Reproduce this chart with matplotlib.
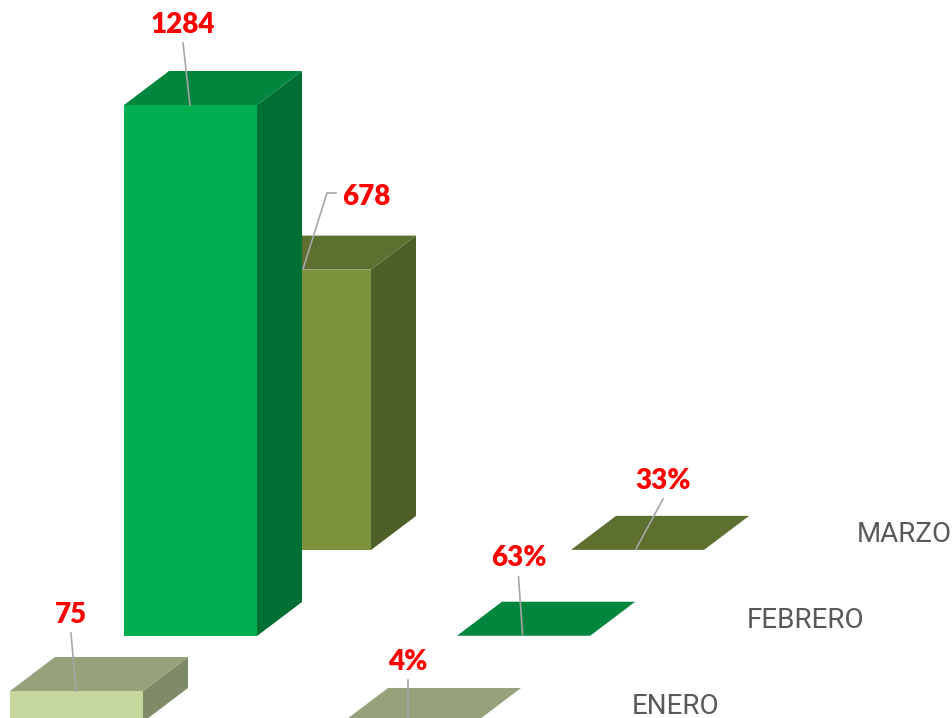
import matplotlib
matplotlib.use("Agg")
import matplotlib.pyplot as plt
from matplotlib.patches import Polygon

# Datos
meses = ["ENERO", "FEBRERO", "MARZO"]
totales = [75, 1284, 678]
porcentajes = [0.04, 0.63, 0.33]

# colores de cada mes: frente, tapa, lado
col_frente = ["#C5D79C", "#00B050", "#7E933D"]
col_tapa = ["#95A27A", "#00863D", "#5E7030"]
col_lado = ["#7F8B68", "#006F33", "#4F5F28"]

# geometria de la caja en pixeles
ANCHO, ALTO = 953, 718
BASE_PX = 722
ESCALA = 531 / 1284  # pixeles por unidad
PASO_X, PASO_Y = 114, 86  # desplazamiento entre meses
FONDO_X, FONDO_Y = 45, 34
ANCHO_BARRA = 133
COLUMNAS_X = [10, 343]


def y_dato(px):
    return (BASE_PX - px) / ESCALA


def caja(ax, x, base, valor, i):
    # base y valor en unidades del eje y
    fy = FONDO_Y / ESCALA
    x2 = x + ANCHO_BARRA
    top = base + valor
    ax.add_patch(Polygon([(x2, base), (x2 + FONDO_X, base + fy), (x2 + FONDO_X, top + fy), (x2, top)],
                         fc=col_lado[i], ec="none"))
    ax.add_patch(Polygon([(x, top), (x2, top), (x2 + FONDO_X, top + fy), (x + FONDO_X, top + fy)],
                         fc=col_tapa[i], ec="none"))
    ax.add_patch(Polygon([(x, base), (x2, base), (x2, top), (x, top)],
                         fc=col_frente[i], ec="none"))


fig = plt.figure(figsize=(ANCHO / 100, ALTO / 100), dpi=100)
ax = fig.add_axes([0, 0, 1, 1])
ax.set_xlim(0, ANCHO)
ax.set_ylim(y_dato(ALTO), y_dato(0))
ax.axis("off")

# de atras hacia adelante
for i in [2, 1, 0]:
    base = y_dato(BASE_PX - PASO_Y * i)
    caja(ax, COLUMNAS_X[0] + PASO_X * i, base, totales[i], i)
    caja(ax, COLUMNAS_X[1] + PASO_X * i, base, porcentajes[i], i)

# lineas guia de las etiquetas
guias = [
    [(71, 633), (76, 691)],
    [(183, 43), (190, 105)],
    [(336, 193), (327, 193), (303, 269)],
    [(408, 680), (408, 720)],
    [(518.5, 577), (522.5, 634)],
    [(663, 499), (636, 549)],
]
for g in guias:
    ax.plot([p[0] for p in g], [y_dato(p[1]) for p in g], color="#A6A6A6", lw=1.2)

# etiquetas de valores
pos_tot = [(71, 615), (183, 25), (366, 197)]
pos_pct = [(408, 662), (519, 558), (663, 481)]
fuente = ["Lato", "DejaVu Sans"]
for i in range(3):
    ax.text(pos_tot[i][0], y_dato(pos_tot[i][1]), str(totales[i]), color="#FF0000", fontsize=20,
            fontweight=800, family=fuente, ha="center", va="center")
    ax.text(pos_pct[i][0], y_dato(pos_pct[i][1]), f"{porcentajes[i]:.0%}", color="#FF0000", fontsize=20,
            fontweight=800, family=fuente, ha="center", va="center")

# nombres de los meses
pos_mes = [(676, 706), (806, 620), (904, 534)]
for i in range(3):
    ax.text(pos_mes[i][0], y_dato(pos_mes[i][1]), meses[i], color="#595959", fontsize=20,
            family=["Roboto", "Liberation Sans"], ha="center", va="center")

fig.savefig("out.png", dpi=100)
